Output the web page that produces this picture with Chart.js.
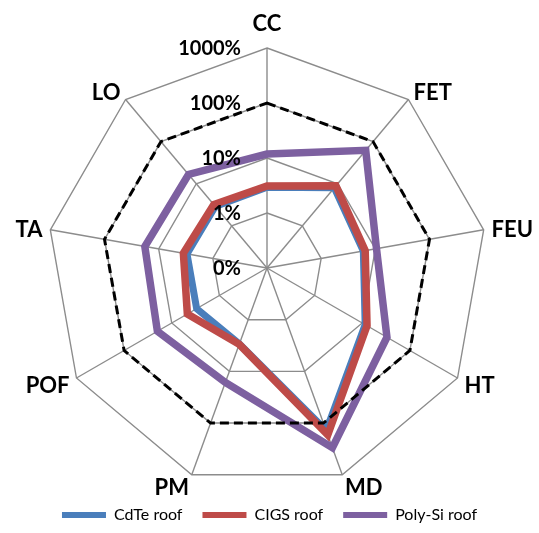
<!DOCTYPE html>
<html>
<head>
<meta charset="utf-8">
<script src="https://cdn.jsdelivr.net/npm/chart.js@4"></script>
<style>
  html, body { margin: 0; padding: 0; background: #fff; }
  #wrap { width: 539px; height: 533px; }
</style>
</head>
<body>
<div id="wrap"><canvas id="radarChart"></canvas></div>
<script>
const categories = ['CC', 'FET', 'FEU', 'HT', 'MD', 'PM', 'POF', 'TA', 'LO'];

// values in %
const cdteRoof   = [2.95, 8.0, 6.0, 11.5, 140, 2.95, 3.0, 3.0, 2.9];
const cigsRoof   = [3.1, 8.9, 6.5, 12.6, 170, 3.0, 4.7, 3.5, 3.2];
const polySiRoof = [11.8, 62, 10.5, 33, 300, 16.4, 20, 18, 16.6];
const baseline   = [100, 100, 100, 100, 100, 100, 100, 100, 100];

const tickValues = [0.1, 1, 10, 100, 1000];
const tickLabels = ['0%', '1%', '10%', '100%', '1000%'];

const toLog = arr => arr.map(v => Math.log10(v));

const textPlugin = {
  id: 'radarText',
  afterDraw(chart) {
    const s = chart.scales.r;
    const ctx = chart.ctx;
    ctx.save();
    ctx.fillStyle = '#000';

    // category labels
    ctx.font = 'bold 22px Lato';
    ctx.textBaseline = 'middle';
    categories.forEach((name, i) => {
      const deg = i * 360 / categories.length;
      const rad = deg * Math.PI / 180;
      const p = s.getPointPosition(i, s.drawingArea + 8);
      let y = p.y - 3.7 * Math.cos(rad) + 2;
      if (deg === 0) { ctx.textAlign = 'center'; y -= 14; }
      else ctx.textAlign = deg < 180 ? 'left' : 'right';
      ctx.fillText(name, p.x, y);
    });

    // log tick labels along the CC axis
    ctx.font = 'bold 20px Lato';
    ctx.textAlign = 'right';
    tickValues.forEach((v, k) => {
      const d = s.getDistanceFromCenterForValue(Math.log10(v));
      ctx.fillText(tickLabels[k], s.xCenter - 26, s.yCenter - d + 1);
    });
    ctx.restore();
  }
};

new Chart(document.getElementById('radarChart'), {
  type: 'radar',
  data: {
    labels: categories,
    datasets: [
      {
        label: 'CdTe roof',
        data: toLog(cdteRoof),
        borderColor: '#4A7EBB',
        borderWidth: 7,
        order: 3
      },
      {
        label: 'CIGS roof',
        data: toLog(cigsRoof),
        borderColor: '#BE4B48',
        borderWidth: 7.5,
        order: 2
      },
      {
        label: 'Poly-Si roof',
        data: toLog(polySiRoof),
        borderColor: '#7D60A0',
        borderWidth: 7.5,
        order: 1
      },
      {
        label: 'ref',
        data: toLog(baseline),
        borderColor: '#000',
        borderWidth: 3,
        borderDash: [9, 5],
        order: 0
      }
    ]
  },
  options: {
    responsive: true,
    maintainAspectRatio: false,
    animation: false,
    elements: {
      point: { radius: 0, hoverRadius: 0 },
      line: { fill: false, tension: 0, backgroundColor: 'transparent' }
    },
    scales: {
      r: {
        min: -1,
        max: 3,
        ticks: { display: false, stepSize: 1 },
        pointLabels: { display: false },
        grid: { color: '#8C8C8C', lineWidth: 1.4 },
        angleLines: { color: '#8C8C8C', lineWidth: 1.4 },
        afterFit: s => {
          s.xCenter = 267;
          s.yCenter = 268;
          s.drawingArea = 220;
        }
      }
    },
    plugins: {
      legend: {
        position: 'bottom',
        labels: {
          boxWidth: 44,
          boxHeight: 6,
          useBorderRadius: true,
          borderRadius: 3,
          padding: 20,
          color: '#000',
          font: { family: 'Lato', size: 16 },
          generateLabels: chart => chart.data.datasets.slice(0, 3).map((ds, i) => ({
            text: ds.label,
            fillStyle: ds.borderColor,
            strokeStyle: ds.borderColor,
            lineWidth: 0,
            datasetIndex: i,
            hidden: false
          }))
        }
      },
      tooltip: { enabled: false }
    }
  },
  plugins: [textPlugin]
});
</script>
</body>
</html>
